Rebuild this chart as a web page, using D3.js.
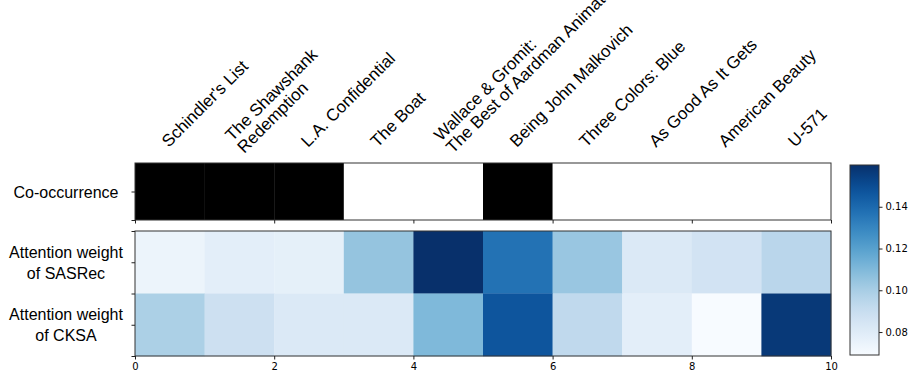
<!DOCTYPE html>
<html>
<head>
<meta charset="utf-8">
<script src="https://cdn.jsdelivr.net/npm/d3@7"></script>
<style>
  html, body { margin: 0; padding: 0; background: #fff; }
  svg { display: block; }
  .lbl { font-family: Arial, "Liberation Sans", sans-serif; fill: #000; }
  .tick text { font-family: "DejaVu Sans", sans-serif; font-size: 10px; fill: #000; }
  .tick line { stroke: #222; }
  .domain { display: none; }
</style>
</head>
<body>
<div id="chart"></div>
<script>
// ── Data ────────────────────────────────────────────────────────────────────
const movies = [
  "Schindler's List", "The Shawshank\nRedemption", "L.A. Confidential", "The Boat",
  "Wallace & Gromit:\nThe Best of Aardman Animation", "Being John Malkovich",
  "Three Colors: Blue", "As Good As It Gets", "American Beauty", "U-571",
];
const rowLabels   = ["Co-occurrence", "Attention weight\nof SASRec", "Attention weight\nof CKSA"];
const cooccurrence = [1, 1, 1, 0, 0, 1, 0, 0, 0, 0];
const sasrec = [0.074, 0.078, 0.077, 0.105, 0.160, 0.137, 0.104, 0.082, 0.086, 0.095];
const cksa   = [0.099, 0.088, 0.082, 0.082, 0.110, 0.147, 0.093, 0.078, 0.069, 0.157];
const xTicks    = [0, 2, 4, 6, 8, 10];
const cbarTicks = [0.08, 0.10, 0.12, 0.14];

// ── Layout ──────────────────────────────────────────────────────────────────
const W = 918, H = 386;
const X0 = 135, X1 = 831;
const TOP = [163, 220], BOT = [231, 356];
const CB = { x: 850, w: 29, y0: 165, y1: 355 };

const svg = d3.select('#chart').append('svg').attr('width', W).attr('height', H);

const x = d3.scaleLinear().domain([0, 10]).range([X0, X1]);
const yTop = d3.scaleLinear().domain([0, 1]).range(TOP);
const yBot = d3.scaleLinear().domain([0, 2]).range(BOT);

const attn = [sasrec, cksa];
const [vmin, vmax] = d3.extent(attn.flat());
const color = d3.scaleSequential(d3.interpolateBlues).domain([vmin, vmax]);

// ── Co-occurrence panel ─────────────────────────────────────────────────────
svg.append('g').selectAll('rect')
  .data(cooccurrence)
  .join('rect')
  .attr('x', (d, i) => x(i))
  .attr('y', yTop(0))
  .attr('width', x(1) - x(0) + 0.3)
  .attr('height', yTop(1) - yTop(0))
  .attr('fill', d => d ? '#000' : '#fff');

svg.append('rect')
  .attr('x', X0).attr('y', TOP[0]).attr('width', X1 - X0).attr('height', TOP[1] - TOP[0])
  .attr('fill', 'none').attr('stroke', '#333');

svg.append('g').attr('transform', `translate(0,${TOP[1]})`)
  .call(d3.axisBottom(x).tickValues(xTicks).tickSize(3.5).tickFormat(''));
svg.append('g').attr('transform', `translate(${X0},0)`)
  .call(d3.axisLeft(yTop).tickValues([0.5, 1]).tickSize(3.5).tickFormat(''));

// ── Attention panel ─────────────────────────────────────────────────────────
attn.forEach((row, r) => {
  svg.append('g').selectAll('rect')
    .data(row)
    .join('rect')
    .attr('x', (d, i) => x(i))
    .attr('y', yBot(r))
    .attr('width', x(1) - x(0) + 0.3)
    .attr('height', yBot(1) - yBot(0) + 0.3)
    .attr('fill', d => color(d));
});

svg.append('rect')
  .attr('x', X0).attr('y', BOT[0]).attr('width', X1 - X0).attr('height', BOT[1] - BOT[0])
  .attr('fill', 'none').attr('stroke', '#333');

svg.append('g').attr('transform', `translate(0,${BOT[1]})`)
  .call(d3.axisBottom(x).tickValues(xTicks).tickSize(3.5).tickPadding(3).tickFormat(d3.format('d')));
svg.append('g').attr('transform', `translate(${X0},0)`)
  .call(d3.axisLeft(yBot).tickValues([0, 0.5, 1, 1.5, 2]).tickSize(3.5).tickFormat(''));

// ── Row labels (centred block, left of panels) ──────────────────────────────
const rowCentres = [yTop(0.5), yBot(0.5), yBot(1.5)];
rowLabels.forEach((lab, i) => {
  const lines = lab.split('\n');
  const lh = 21;
  const t = svg.append('text').attr('class', 'lbl')
    .attr('font-size', 16).attr('text-anchor', 'middle');
  lines.forEach((ln, k) => {
    t.append('tspan')
      .attr('x', 66)
      .attr('y', rowCentres[i] + 6 + (k - (lines.length - 1) / 2) * lh)
      .text(ln);
  });
});

// ── Column labels (rotated 45°) ─────────────────────────────────────────────
movies.forEach((m, i) => {
  const lines = m.split('\n');
  const n = lines.length - 1;
  const g = svg.append('g')
    .attr('transform', `translate(${x(i + 0.5) + 1},150) rotate(-45)`);
  const t = g.append('text').attr('class', 'lbl').attr('font-size', 17);
  lines.forEach((ln, k) => {
    t.append('tspan')
      .attr('x', 0)
      .attr('y', -3 + n * 8.5 - (n - k) * 17)
      .text(ln);
  });
});

// ── Colour bar ──────────────────────────────────────────────────────────────
const defs = svg.append('defs');
const grad = defs.append('linearGradient').attr('id', 'cbar')
  .attr('x1', 0).attr('y1', 1).attr('x2', 0).attr('y2', 0);
d3.range(0, 1.0001, 0.05).forEach(t => {
  grad.append('stop').attr('offset', t).attr('stop-color', d3.interpolateBlues(t));
});

svg.append('rect')
  .attr('x', CB.x).attr('y', CB.y0).attr('width', CB.w).attr('height', CB.y1 - CB.y0)
  .attr('fill', 'url(#cbar)').attr('stroke', '#333');

const yCb = d3.scaleLinear().domain([vmin, vmax]).range([CB.y1, CB.y0]);
svg.append('g').attr('transform', `translate(${CB.x + CB.w},0)`)
  .call(d3.axisRight(yCb).tickValues(cbarTicks).tickSize(3.5).tickPadding(3).tickFormat(d3.format('.2f')));
</script>
</body>
</html>
